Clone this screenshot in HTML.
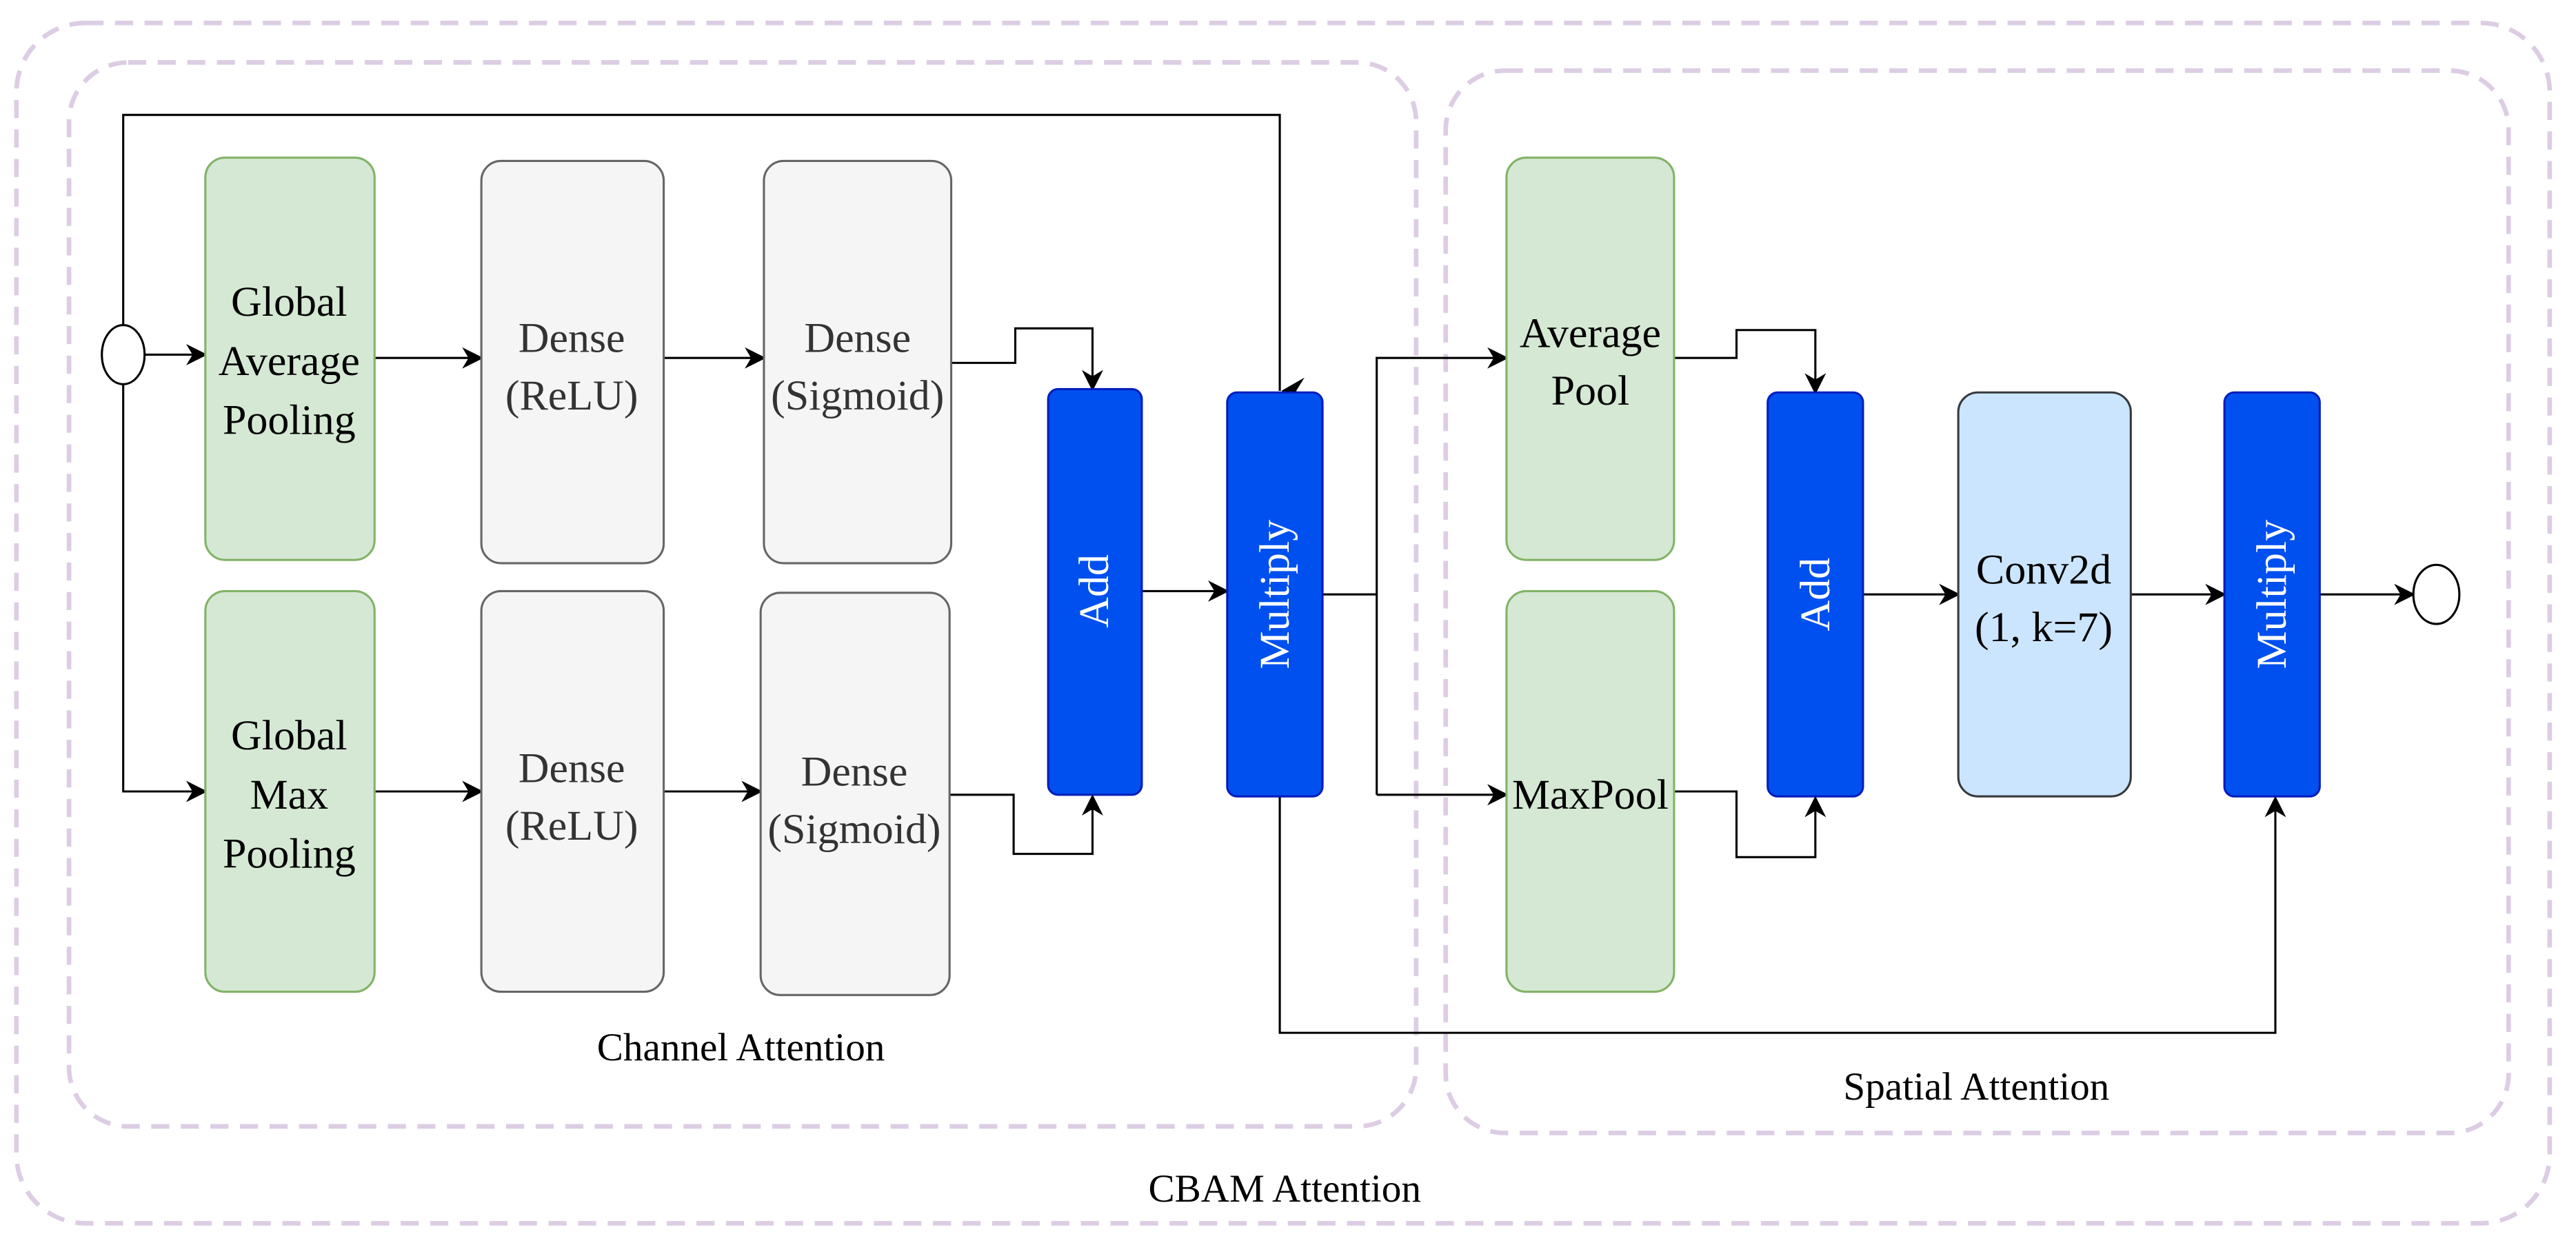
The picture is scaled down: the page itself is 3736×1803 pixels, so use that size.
<!DOCTYPE html>
<html><head><meta charset="utf-8"><style>html,body{margin:0;padding:0;background:#fff}svg{display:block}svg text{font-family:"Liberation Serif","Times New Roman",Times,serif !important}</style></head>
<body>
<svg width="3736" height="1803" viewBox="0 0 1568 757" preserveAspectRatio="none" xmlns="http://www.w3.org/2000/svg" font-family="Liberation Serif, Times New Roman, serif">
<defs>
<marker id="a" viewBox="0 0 10 10" refX="9" refY="5" markerWidth="13" markerHeight="13" orient="auto" markerUnits="userSpaceOnUse">
<path d="M0,0 L10,5 L0,10 L3,5 Z" fill="#000"/>
</marker>
</defs>
<g fill="none" stroke="#dccde4" stroke-width="2.8" stroke-dasharray="11 7">
<rect x="10" y="14" width="1542" height="731" rx="42"/>
<rect x="42" y="38" width="820" height="648" rx="36"/>
<rect x="880" y="43" width="647" height="647" rx="36"/>
</g>
<g stroke="#000" stroke-width="1.3" fill="none">
<polyline points="75,198 75,70 779,70 779,238" />
<line x1="88" y1="216" x2="125" y2="216" marker-end="url(#a)"/>
<polyline points="75,234 75,482 125,482" marker-end="url(#a)"/>
<line x1="228" y1="218" x2="293" y2="218" marker-end="url(#a)"/>
<line x1="228" y1="482" x2="293" y2="482" marker-end="url(#a)"/>
<line x1="404" y1="218" x2="465" y2="218" marker-end="url(#a)"/>
<line x1="404" y1="482" x2="463" y2="482" marker-end="url(#a)"/>
<polyline points="579,221 618,221 618,200 665,200 665,237" marker-end="url(#a)"/>
<polyline points="578,484 617,484 617,520 665,520 665,485" marker-end="url(#a)"/>
<line x1="695" y1="360" x2="747" y2="360" marker-end="url(#a)"/>
<polyline points="805,362 838,362"/>
<polyline points="838,484 838,218 917,218" marker-end="url(#a)"/>
<polyline points="838,484 917,484" marker-end="url(#a)"/>
<polyline points="779,485 779,629 1385,629 1385,486" marker-end="url(#a)"/>
<polyline points="1019,218 1057,218 1057,201 1105,201 1105,239" marker-end="url(#a)"/>
<polyline points="1019,482 1057,482 1057,522 1105,522 1105,486" marker-end="url(#a)"/>
<line x1="1134" y1="362" x2="1192" y2="362" marker-end="url(#a)"/>
<line x1="1297" y1="362" x2="1354" y2="362" marker-end="url(#a)"/>
<line x1="1412" y1="362" x2="1469" y2="362" marker-end="url(#a)"/>
</g>
<path d="M794,230 L780,238 L794,246 L789,238 Z" fill="#000"/>
<ellipse cx="75" cy="216" rx="13" ry="18" fill="#fff" stroke="#000" stroke-width="1.3"/>
<ellipse cx="1483" cy="362" rx="14" ry="18" fill="#fff" stroke="#000" stroke-width="1.3"/>
<g stroke-width="1.3">
<rect x="125" y="96" width="103" height="245" rx="12" fill="#d5e8d4" stroke="#82b366"/>
<rect x="125" y="360" width="103" height="244" rx="12" fill="#d5e8d4" stroke="#82b366"/>
<rect x="293" y="98" width="111" height="245" rx="12" fill="#f5f5f5" stroke="#666"/>
<rect x="293" y="360" width="111" height="244" rx="12" fill="#f5f5f5" stroke="#666"/>
<rect x="465" y="98" width="114" height="245" rx="12" fill="#f5f5f5" stroke="#666"/>
<rect x="463" y="361" width="115" height="245" rx="12" fill="#f5f5f5" stroke="#666"/>
<rect x="638" y="237" width="57" height="247" rx="6" fill="#0050ef" stroke="#001dbc"/>
<rect x="747" y="239" width="58" height="246" rx="6" fill="#0050ef" stroke="#001dbc"/>
<rect x="917" y="96" width="102" height="245" rx="12" fill="#d5e8d4" stroke="#82b366"/>
<rect x="917" y="360" width="102" height="244" rx="12" fill="#d5e8d4" stroke="#82b366"/>
<rect x="1076" y="239" width="58" height="246" rx="6" fill="#0050ef" stroke="#001dbc"/>
<rect x="1192" y="239" width="105" height="246" rx="12" fill="#cce5ff" stroke="#36393d"/>
<rect x="1354" y="239" width="58" height="246" rx="6" fill="#0050ef" stroke="#001dbc"/>
</g>
<g font-size="26" text-anchor="middle" dominant-baseline="central" fill="#000">
<text x="176" y="184">Global</text><text x="176" y="220">Average</text><text x="176" y="256">Pooling</text>
<text x="176" y="448">Global</text><text x="176" y="484">Max</text><text x="176" y="520">Pooling</text>
<g fill="#333">
<text x="348" y="206">Dense</text><text x="348" y="241">(ReLU)</text>
<text x="348" y="468">Dense</text><text x="348" y="503">(ReLU)</text>
<text x="522" y="206">Dense</text><text x="522" y="241">(Sigmoid)</text>
<text x="520" y="470">Dense</text><text x="520" y="505">(Sigmoid)</text>
</g>
<text x="968" y="203">Average</text><text x="968" y="238">Pool</text>
<text x="968" y="484">MaxPool</text>
<text x="1244" y="347">Conv2d</text><text x="1244" y="382">(1, k=7)</text>
<g fill="#fff">
<text transform="translate(666,360) rotate(-90)">Add</text>
<text transform="translate(776,362) rotate(-90)">Multiply</text>
<text transform="translate(1105,362) rotate(-90)">Add</text>
<text transform="translate(1383,362) rotate(-90)">Multiply</text>
</g>
</g>
<g font-size="24" text-anchor="middle" dominant-baseline="central" fill="#000">
<text x="451" y="638">Channel Attention</text>
<text x="1203" y="662">Spatial Attention</text>
<text x="782" y="724">CBAM Attention</text>
</g>
</svg>
</body></html>
